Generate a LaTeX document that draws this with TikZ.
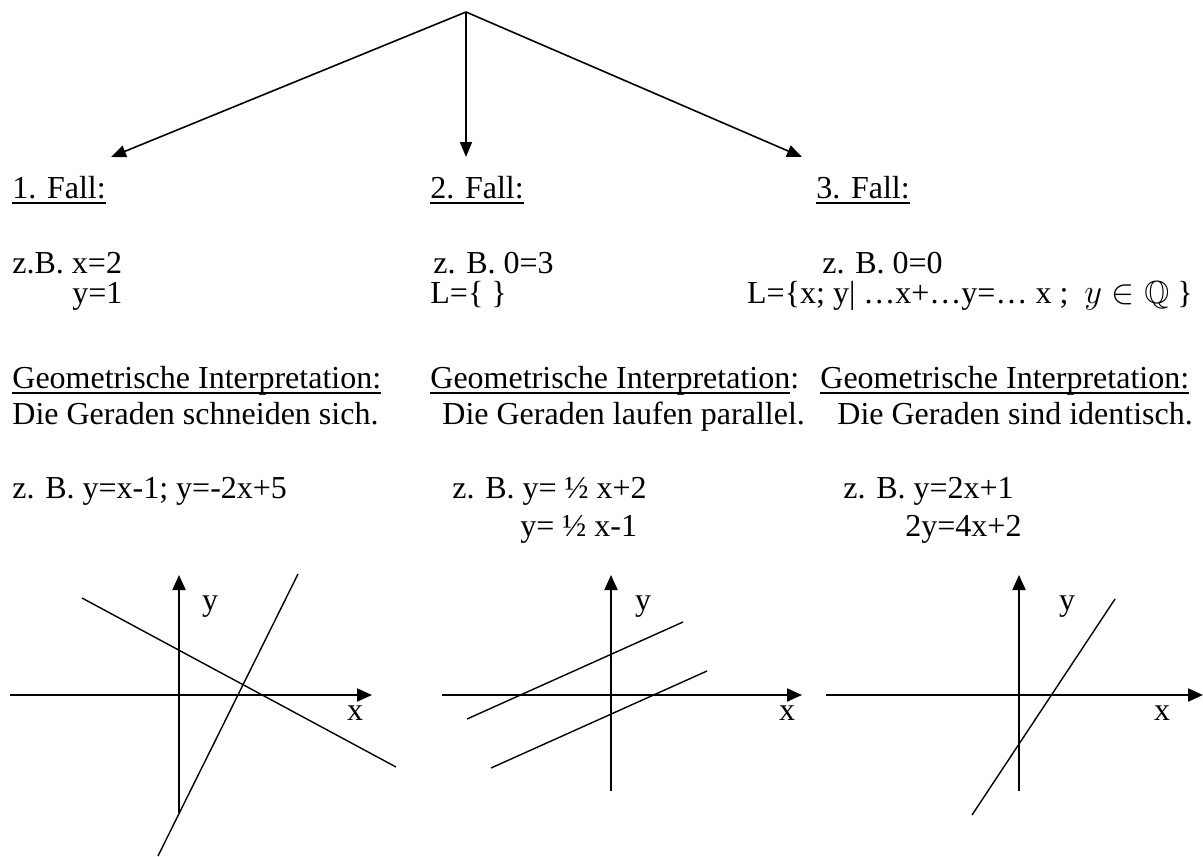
\documentclass[tikz,border=0pt]{standalone}
\usepackage{fontspec}
\setmainfont{Liberation Serif}
\usepackage{amssymb}
\usetikzlibrary{arrows.meta}
\newcommand{\ulbox}[1]{\setbox0\hbox{#1}\rlap{\rule[-3pt]{\wd0}{0.9pt}}\box0}

\begin{document}
\begin{tikzpicture}[x=0.5pt,y=-0.5pt,
  txt/.style={inner sep=0pt, anchor=base west, font=\fontsize{16}{19}\selectfont},
  lbl/.style={inner sep=0pt, font=\fontsize{16}{19}\selectfont},
  pfeil/.style={line width=0.8pt, -{Triangle[length=7.5pt,width=6pt]}},
  achse/.style={line width=1pt, -{Triangle[length=7.5pt,width=6.5pt]}},
  gerade/.style={line width=0.7pt}]
\useasboundingbox (0,0) rectangle (1203,856);

\coordinate (top) at (466,12);
\coordinate (c1) at (111,157);
\coordinate (c2) at (466,157);
\coordinate (c3) at (802,157);
\draw[pfeil] (top) -- (c1);
\draw[pfeil] (top) -- (c2);
\draw[pfeil] (top) -- (c3);

\node[txt] (f1) at (12,198) {\ulbox{1. Fall:}};
\node[txt] (f2) at (430,198) {\ulbox{2. Fall:}};
\node[txt] (f3) at (816,198) {\ulbox{3. Fall:}};

\node[txt] (bsp1a) at (12,273) {z.B. x=2};
\node[txt] (bsp1b) at (72,303) {y=1};
\node[txt] (bsp2a) at (433,273) {z. B. 0=3};
\node[txt] (bsp2b) at (430,303) {L=\{ \}};
\node[txt] (bsp3a) at (822,273) {z. B. 0=0};
\node[txt,anchor=base east] (bsp3b) at (1193,303) {L=\{x; y| …x+…y=… x ;\ \ $y\in\mathbb{Q}$ \}};

\node[txt] (geo1) at (12,388) {\ulbox{Geometrische Interpretation:}};
\node[txt] (geo2) at (430,388) {\ulbox{Geometrische Interpretation}:};
\node[txt] (geo3) at (820,388) {\ulbox{Geometrische Interpretation:}};

\node[txt] (int1) at (12,424) {Die Geraden schneiden sich.};
\node[txt] (int2) at (442,424) {Die Geraden laufen parallel.};
\node[txt] (int3) at (837,424) {Die Geraden sind identisch.};

\node[txt] (gl1) at (12,498) {z. B. y=x-1; y=-2x+5};
\node[txt] (gl2a) at (452,498) {z. B. y= ½ x+2};
\node[txt] (gl2b) at (520,536) {y= ½ x-1};
\node[txt] (gl3a) at (843,498) {z. B. y=2x+1};
\node[txt] (gl3b) at (905,536) {2y=4x+2};

\draw[achse] (10,695) -- (372,695);
\draw[achse] (179,813) -- (179,575);
\node[lbl] (y1) at (210,607) {y};
\node[lbl] (x1) at (355,713) {x};
\draw[gerade] (82,598) -- (396,767);
\draw[gerade] (298,574) -- (158,856);

\draw[achse] (442,695) -- (802,695);
\draw[achse] (611,791) -- (611,575);
\node[lbl] (y2) at (643,607) {y};
\node[lbl] (x2) at (787,713) {x};
\draw[gerade] (467,719) -- (683,622);
\draw[gerade] (491,768) -- (707,671);

\draw[achse] (826,695) -- (1203,695);
\draw[achse] (1019,791) -- (1019,575);
\node[lbl] (y3) at (1067,607) {y};
\node[lbl] (x3) at (1162,713) {x};
\draw[gerade] (972,815) -- (1115,599);
\end{tikzpicture}
\end{document}
